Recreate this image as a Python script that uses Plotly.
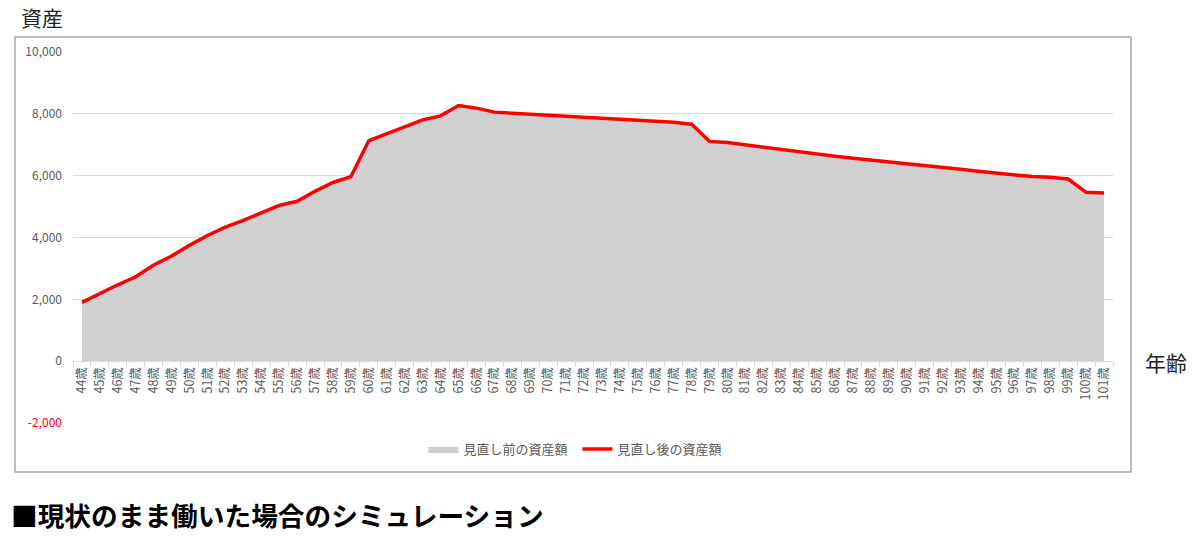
import plotly.graph_objects as go

ages = [f"{a}歳" for a in range(44, 102)]
before_values = [1900, 2190, 2470, 2730, 3110, 3400, 3750, 4065, 4335, 4555, 4800, 5040, 5170, 5495,
                 5780, 5970, 7135, 7355, 7590, 7805, 7935, 8270, 8185, 8055, 8020, 7990, 7965, 7935,
                 7905, 7870, 7830, 7795, 7765, 7730, 7665, 7108, 7075, 7000, 6915, 6840, 6755, 6690,
                 6625, 6560, 6505, 6440, 6375, 6325, 6260, 6205, 6140, 6085, 6030, 5970, 5945, 5890,
                 5460, 5440]
after_values = list(before_values)

y_tickvals = [-2000, 0, 2000, 4000, 6000, 8000, 10000]
y_ticktext = ['<span style="color:#ff0000">-2,000</span>', "0", "2,000", "4,000", "6,000", "8,000", "10,000"]

FONT = "Noto Sans CJK JP"

fig = go.Figure()
fig.add_trace(go.Scatter(
    x=ages, y=before_values, name="見直し前の資産額", mode="lines",
    line=dict(width=0, color="#d0d0d0"), fill="tozeroy", fillcolor="#d0d0d0",
))
fig.add_trace(go.Scatter(
    x=ages, y=after_values, name="見直し後の資産額", mode="lines",
    line=dict(width=3.5, color="#ff0000"),
))

W, H = 1200, 537
L, R, T, B = 73, 1113, 52, 423
def px_x(p):
    return (p - L) / (R - L)
def px_y(p):
    return (B - p) / (B - T)

fig.update_layout(
    width=W, height=H,
    margin=dict(l=L, r=W - R, t=T, b=H - B, autoexpand=False),
    paper_bgcolor="white", plot_bgcolor="white",
    font=dict(family=FONT, color="#595959"),
    showlegend=True,
    legend=dict(orientation="h", x=0.485, xanchor="center", y=px_y(449), yanchor="middle",
                font=dict(size=13, color="#595959"), bgcolor="rgba(0,0,0,0)", itemwidth=30,
                entrywidth=109, entrywidthmode="pixels"),
    xaxis=dict(
        type="category", range=[-0.5, len(ages) - 0.5],
        anchor="free", position=2000 / 12000, automargin=False,
        showline=True, linecolor="#d9d9d9", linewidth=1,
        ticks="outside", ticklen=5, tickcolor="#d9d9d9", tickson="boundaries",
        tickangle=-90, tickfont=dict(size=12.5, color="#595959", family=FONT),
        showgrid=False, zeroline=False,
    ),
    yaxis=dict(
        range=[-2000, 10000], tickvals=y_tickvals, ticktext=y_ticktext,
        showgrid=True, gridcolor="#d9d9d9", gridwidth=1, automargin=False,
        zeroline=False, showline=False,
        tickfont=dict(size=12, color="#595959", family=FONT),
        ticklabelstandoff=10,
    ),
    shapes=[dict(type="rect", xref="paper", yref="paper",
                 x0=px_x(15), x1=px_x(1131), y0=px_y(472), y1=px_y(37),
                 line=dict(color="#a6a6a6", width=1.5), fillcolor="rgba(0,0,0,0)", layer="below")],
    annotations=[
        dict(text="資産", xref="paper", yref="paper", x=px_x(19), y=px_y(17),
             xanchor="left", yanchor="middle", showarrow=False,
             font=dict(size=21, color="#222222", family=FONT)),
        dict(text="年齢", xref="paper", yref="paper", x=px_x(1143), y=px_y(362),
             xanchor="left", yanchor="middle", showarrow=False,
             font=dict(size=21, color="#222222", family=FONT)),
        dict(text="<b>■現状のまま働いた場合のシミュレーション</b>", xref="paper", yref="paper",
             x=px_x(9), y=px_y(514), xanchor="left", yanchor="middle", showarrow=False,
             font=dict(size=26.7, color="#000000", family=FONT)),
    ],
)

fig.write_html("out.html", config={"displayModeBar": False},
               post_script="document.body.style.margin='0';document.body.style.overflow='hidden';")
